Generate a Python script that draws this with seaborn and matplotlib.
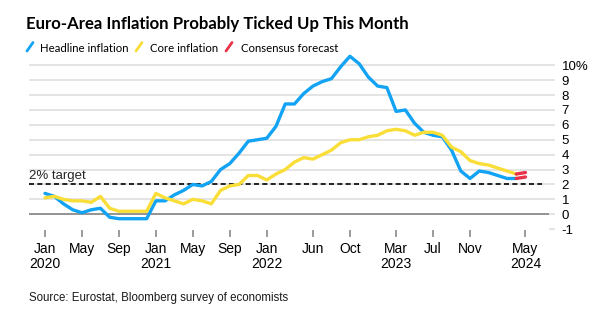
import matplotlib
matplotlib.use("Agg")
import matplotlib.pyplot as plt
import seaborn as sns
import pandas as pd
from matplotlib.lines import Line2D
from matplotlib import font_manager as fm
from matplotlib.textpath import TextPath

# ---------------- data ----------------
# monthly index: 0 = Jan 2020 ... 51 = Apr 2024
months = list(range(52))
headline = [1.4, 1.2, 0.7, 0.3, 0.1, 0.3, 0.4, -0.2, -0.3, -0.3, -0.3, -0.3,
            0.9, 0.9, 1.3, 1.6, 2.0, 1.9, 2.2, 3.0, 3.4, 4.1, 4.9, 5.0,
            5.1, 5.9, 7.4, 7.4, 8.1, 8.6, 8.9, 9.1, 9.9, 10.6, 10.1, 9.2,
            8.6, 8.5, 6.9, 7.0, 6.1, 5.5, 5.3, 5.2, 4.3, 2.9, 2.4, 2.9,
            2.8, 2.6, 2.4, 2.4]
core = [1.1, 1.2, 1.0, 0.9, 0.9, 0.8, 1.2, 0.4, 0.2, 0.2, 0.2, 0.2,
        1.4, 1.1, 0.9, 0.7, 1.0, 0.9, 0.7, 1.6, 1.9, 2.0, 2.6, 2.6,
        2.3, 2.7, 3.0, 3.5, 3.8, 3.7, 4.0, 4.3, 4.8, 5.0, 5.0, 5.2,
        5.3, 5.6, 5.7, 5.6, 5.3, 5.5, 5.5, 5.3, 4.5, 4.2, 3.6, 3.4,
        3.3, 3.1, 2.9, 2.7]
forecast_months = [51, 52]          # Apr 2024 -> May 2024
forecast_headline = [2.4, 2.5]
forecast_core = [2.7, 2.8]
target = 2.0

tick_months = [0, 4, 8, 12, 16, 20, 24, 29, 33, 38, 42, 46, 52]
tick_labels = ["Jan\n2020", "May", "Sep", "Jan\n2021", "May", "Sep",
               "Jan\n2022", "Jun", "Oct", "Mar\n2023", "Jul", "Nov", "May\n2024"]
y_ticks = list(range(-1, 11))
y_labels = [str(v) for v in range(-1, 10)] + ["10%"]

title = "Euro-Area Inflation Probably Ticked Up This Month"
legend_labels = ["Headline inflation", "Core inflation", "Consensus forecast"]
source = "Source: Eurostat, Bloomberg survey of economists"

# ---------------- style ----------------
BLUE = "#13a3f4"
YELLOW = "#f9de38"
RED = "#e8334a"
GRID = "#e2e2e2"
ZERO = "#8a8a8a"

sns.set_style("white")
plt.rcParams["font.family"] = ["Liberation Sans", "DejaVu Sans"]


def pick_font(text, weight, cap_px, width_px):
    """Choose the installed family whose proportions best match (cap height, ink width)."""
    cands = [("Liberation Sans Narrow", "normal"), ("DejaVu Sans", "condensed"),
             ("Roboto", "normal"), ("Lato", "normal"), ("Open Sans", "normal"),
             ("Noto Sans", "normal"), ("Inter", "normal"), ("Liberation Sans", "normal")]
    best = None
    for fam, stretch in cands:
        fp = fm.FontProperties(family=fam, weight=weight, stretch=stretch)
        try:
            fm.findfont(fp, fallback_to_default=False)
        except Exception:
            continue
        try:
            cap = TextPath((0, 0), "H", size=100, prop=fp).get_extents().height / 100
            size_px = cap_px / cap
            w = TextPath((0, 0), text, size=size_px, prop=fp).get_extents().width
        except Exception:
            continue
        score = abs(w - width_px)
        if best is None or score < best[0]:
            best = (score, fp, size_px, w)
    if best is None:
        return fm.FontProperties(family="Liberation Sans", weight=weight), 12.0
    _, fp, size_px, w = best
    size_px *= width_px / w   # keep the reference width exactly
    return fp, size_px * 0.72


title_fp, title_size = pick_font(title, "bold", 12.7, 382)
leg_fp, leg_size = pick_font(legend_labels[0], "normal", 10.0, 87)

W, H = 601, 326
fig = plt.figure(figsize=(W / 100, H / 100), dpi=100)


def fx(x):
    return x / W


def fy(y):
    return 1 - y / H


# axes geometry (pixels)
L, R, T, B = 29, 549, 53.3, 229.9
ax = fig.add_axes([fx(L), fy(B), (R - L) / W, (B - T) / H])

x0_px, px_per_month = 45.0, 9.24
ax.set_xlim((L - x0_px) / px_per_month, (R - x0_px) / px_per_month)
ax.set_ylim(-1.05, 10.8)

for v in range(1, 11):
    ax.axhline(v, color=GRID, lw=1.3, zorder=0)
ax.axhline(0, color=ZERO, lw=1.3, zorder=1)
ax.axhline(target, xmin=0, xmax=(541.7 - L) / (R - L), color="black",
           ls=(0, (3, 2)), lw=1.2, zorder=2)

df_h = pd.DataFrame({"month": months, "value": headline})
df_c = pd.DataFrame({"month": months, "value": core})
df_fh = pd.DataFrame({"month": forecast_months, "value": forecast_headline})
df_fc = pd.DataFrame({"month": forecast_months, "value": forecast_core})

sns.lineplot(data=df_h, x="month", y="value", color=BLUE, lw=2.4, ax=ax, zorder=3)
sns.lineplot(data=df_c, x="month", y="value", color=YELLOW, lw=2.4, ax=ax, zorder=4)
sns.lineplot(data=df_fh, x="month", y="value", color=RED, lw=2.4, ax=ax, zorder=5)
sns.lineplot(data=df_fc, x="month", y="value", color=RED, lw=2.4, ax=ax, zorder=5)

for s in ax.spines.values():
    s.set_visible(False)
ax.set_xlabel("")
ax.set_ylabel("")

ax.set_yticks(y_ticks, y_labels)
ax.yaxis.tick_right()
ax.tick_params(axis="y", length=4, width=1.3, color=GRID, pad=5,
               labelsize=9.5, labelcolor="black", right=True, left=False)
ax.set_xticks(tick_months, tick_labels)
ax.tick_params(axis="x", length=5, width=1.2, color=ZERO, pad=4,
               labelsize=10, labelcolor="black", bottom=True)
for lbl in ax.get_xticklabels():
    lbl.set_linespacing(1.05)

# ---------------- texts ----------------
fig.text(fx(26), fy(29.5), title, fontproperties=title_fp, fontsize=title_size,
         va="baseline", ha="left", color="black")

leg_x_text = [40, 150, 241]
leg_x_key = [27, 136, 226]
leg_colors = [BLUE, YELLOW, RED]
for xt, xk, c, lab in zip(leg_x_text, leg_x_key, leg_colors, legend_labels):
    fig.add_artist(Line2D([fx(xk), fx(xk + 6)], [fy(51), fy(42.5)],
                          color=c, lw=2.0, transform=fig.transFigure))
    fig.text(fx(xt), fy(52.3), lab, fontproperties=leg_fp, fontsize=leg_size,
             va="baseline", ha="left", color="black")

fig.text(fx(29), fy(179.5), "2% target", fontsize=9.5, va="baseline", ha="left")
fig.text(fx(29), fy(300.7), source, fontsize=8.3, color="#1a1a1a",
         va="baseline", ha="left")

fig.savefig("out.png", dpi=100, facecolor="white")
